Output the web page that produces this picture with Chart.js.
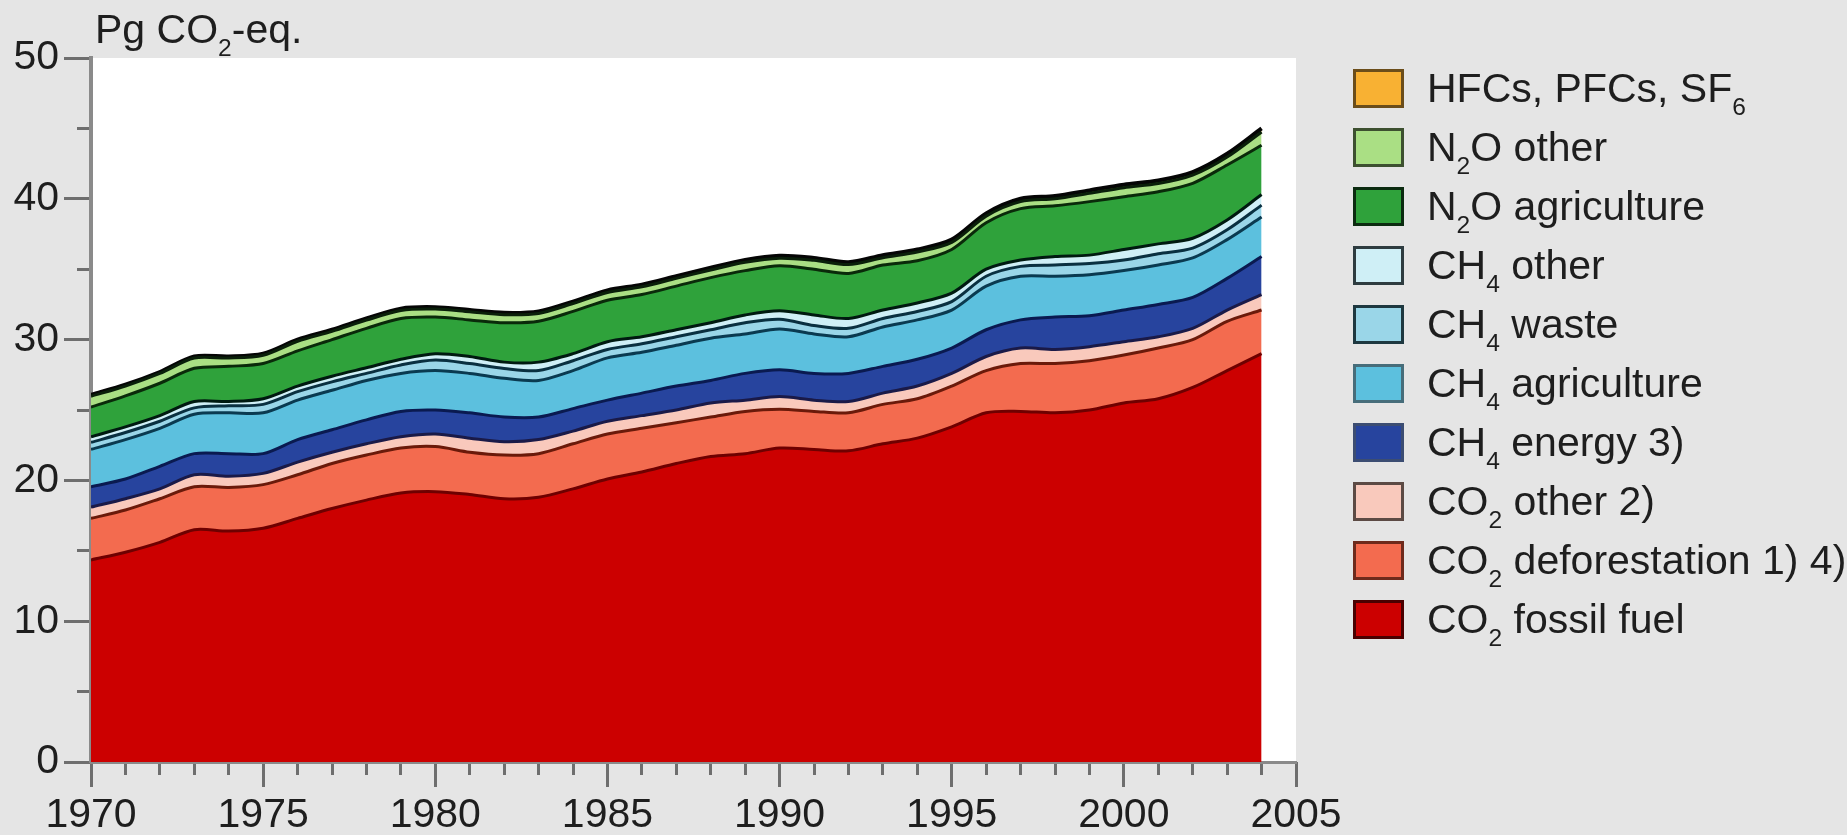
<!DOCTYPE html>
<html>
<head>
<meta charset="utf-8">
<script src="https://cdn.jsdelivr.net/npm/chart.js@4.4.1/dist/chart.umd.min.js"></script>
<style>
  html, body { margin: 0; padding: 0; background: #e5e5e5; }
  #wrap { position: relative; width: 1847px; height: 835px; overflow: hidden;
          font-family: 'Liberation Sans', Arial, Helvetica, sans-serif; color: #1e1e1e; }
  #chart { position: absolute; left: 0; top: 0; }
  .ytitle { position: absolute; left: 95px; top: 9px; font-size: 41px; line-height: 41px; white-space: nowrap; }
  sub { font-size: 0.6em; vertical-align: -13px; line-height: 0; }
  .leg { position: absolute; left: 1353px; height: 41px; display: flex; align-items: center;
         white-space: nowrap; font-size: 41px; line-height: 41px; }
  .leg .box { width: 51px; height: 39px; box-sizing: border-box; border: 3px solid #000; margin-right: 23px; flex: none; }
</style>
</head>
<body>
<div id="wrap">
  <canvas id="chart" width="1847" height="835"></canvas>
  <div class="ytitle">Pg CO<sub>2</sub>-eq.</div>
  <div id="legend"></div>
</div>
<script>
// ---- data (Pg CO2-eq.) ----
const years = [1970,1971,1972,1973,1974,1975,1976,1977,1978,1979,1980,1981,1982,1983,1984,1985,1986,1987,1988,1989,1990,1991,1992,1993,1994,1995,1996,1997,1998,1999,2000,2001,2002,2003,2004];

const co2Fossil = [14.35,14.9,15.6,16.5,16.4,16.6,17.3,18.0,18.6,19.1,19.2,19.0,18.7,18.8,19.4,20.1,20.6,21.2,21.7,21.9,22.3,22.2,22.1,22.6,23.0,23.8,24.8,24.9,24.8,25.0,25.5,25.8,26.6,27.8,29.0];
const co2Deforestation = [2.95,3.0,3.1,3.05,3.1,3.1,3.1,3.2,3.2,3.2,3.2,3.0,3.1,3.1,3.2,3.2,3.1,2.9,2.8,3.0,2.75,2.7,2.7,2.8,2.8,2.9,3.0,3.4,3.5,3.5,3.4,3.6,3.4,3.5,3.1];
const co2Other = [0.8,0.8,0.7,0.85,0.8,0.8,0.9,0.8,0.8,0.8,0.9,1.0,0.95,1.0,0.9,0.9,0.9,0.9,1.0,0.8,0.9,0.8,0.8,0.8,0.9,0.9,1.0,1.1,1.0,1.0,0.95,0.8,0.8,0.8,1.1];
const ch4Energy = [1.45,1.4,1.6,1.5,1.6,1.4,1.6,1.6,1.7,1.8,1.7,1.8,1.75,1.6,1.6,1.5,1.6,1.7,1.6,1.9,1.9,1.9,2.0,1.9,1.9,1.8,1.9,2.0,2.3,2.2,2.25,2.3,2.2,2.25,2.7];
const ch4Agriculture = [2.65,2.8,2.7,2.8,2.9,2.9,2.8,2.8,2.8,2.7,2.8,2.8,2.75,2.6,2.7,3.0,2.9,2.9,3.0,2.8,2.9,2.8,2.6,2.8,2.8,2.7,3.1,3.1,2.9,2.9,2.8,2.8,2.8,2.75,2.8];
const ch4Waste = [0.5,0.5,0.5,0.45,0.5,0.6,0.6,0.6,0.5,0.6,0.75,0.7,0.7,0.7,0.7,0.6,0.6,0.6,0.6,0.8,0.7,0.6,0.6,0.6,0.6,0.6,0.7,0.7,0.8,0.8,0.75,0.8,0.7,0.7,0.85];
const ch4Other = [0.4,0.4,0.4,0.45,0.3,0.4,0.4,0.4,0.4,0.4,0.45,0.5,0.45,0.6,0.5,0.55,0.5,0.5,0.5,0.55,0.6,0.75,0.7,0.6,0.6,0.6,0.5,0.45,0.6,0.6,0.75,0.7,0.7,0.7,0.75];
const n2oAgriculture = [2.1,2.2,2.3,2.36,2.5,2.5,2.5,2.6,2.8,2.9,2.6,2.6,2.8,2.9,3.0,2.95,3.0,3.1,3.2,3.15,3.2,3.25,3.2,3.2,3.0,3.1,3.3,3.65,3.6,3.8,3.75,3.7,3.9,3.9,3.5];
const n2oOther = [0.77,0.70,0.70,0.73,0.59,0.59,0.68,0.58,0.58,0.57,0.57,0.57,0.57,0.56,0.56,0.55,0.55,0.55,0.54,0.59,0.53,0.63,0.63,0.52,0.62,0.51,0.47,0.50,0.50,0.59,0.64,0.58,0.58,0.57,0.95];
const fGases = [0.1,0.1,0.1,0.11,0.11,0.11,0.12,0.12,0.12,0.13,0.13,0.13,0.13,0.14,0.14,0.15,0.15,0.15,0.16,0.16,0.17,0.17,0.17,0.18,0.18,0.19,0.19,0.2,0.2,0.21,0.21,0.22,0.22,0.23,0.25];

// ---- labels (bottom of stack first) ----
const seriesLabelsHtml = [
  'CO<sub>2</sub> fossil fuel',
  'CO<sub>2</sub> deforestation 1) 4)',
  'CO<sub>2</sub> other 2)',
  'CH<sub>4</sub> energy 3)',
  'CH<sub>4</sub> agriculture',
  'CH<sub>4</sub> waste',
  'CH<sub>4</sub> other',
  'N<sub>2</sub>O agriculture',
  'N<sub>2</sub>O other',
  'HFCs, PFCs, SF<sub>6</sub>'
];
const seriesValues = [co2Fossil, co2Deforestation, co2Other, ch4Energy, ch4Agriculture, ch4Waste, ch4Other, n2oAgriculture, n2oOther, fGases];

// ---- styles ----
const fillColors = ['#cc0000','#f36b4f','#f9c9bc','#27449e','#5cc0de','#9ad6e8','#cfeff6','#2fa23b','#aadf84','#f8b133'];
const lineColors = ['#6e0000','#6a1a0a','#1a1a48','#0a1a50','#0a3a50','#0a3040','#001a10','#0a2a0a','#0a1f0a','#050505'];
const lineWidths = [3,3,3,3,3,3,3,3,3,4];
const legendBorders = ['#4a0000','#6e2a1c','#5c4a44','#3c4d72','#476d7a','#1e3840','#2e3c40','#0b2b10','#3d5030','#6b4d1a'];

// ---- ticks ----
const xTickLabels = [1970,1975,1980,1985,1990,1995,2000,2005];
const xMinorTicks = Array.from({length: 36}, (_, i) => 1970 + i);
const yTickLabels = [0,10,20,30,40,50];
const yMinorTicks = [0,5,10,15,20,25,30,35,40,45,50];

const tickFont = { family: "'Liberation Sans', Arial, Helvetica, sans-serif", size: 41 };
const axisGray = '#8a8a8a';
const tickGray = '#6e6e6e';

const datasets = seriesValues.map((vals, i) => ({
  label: seriesLabelsHtml[i].replace(/<[^>]+>/g, ''),
  data: vals.map((v, j) => ({ x: years[j], y: v })),
  backgroundColor: fillColors[i],
  borderColor: lineColors[i],
  borderWidth: lineWidths[i],
  pointRadius: 0,
  tension: 0.3,
  fill: i === 0 ? 'origin' : '-1',
  xAxisID: 'x',
  yAxisID: 'y'
}));

const plotBg = {
  id: 'plotBg',
  beforeDraw(chart) {
    const { ctx, chartArea: { left, top, right, bottom } } = chart;
    ctx.save();
    ctx.fillStyle = '#ffffff';
    ctx.fillRect(left, top, right - left, bottom - top);
    ctx.restore();
  }
};

new Chart(document.getElementById('chart'), {
  type: 'line',
  data: { datasets },
  plugins: [plotBg],
  options: {
    responsive: false,
    animation: false,
    devicePixelRatio: 1,
    layout: { padding: { left: 0, top: 58, right: 551, bottom: 0 } },
    plugins: { legend: { display: false }, tooltip: { enabled: false } },
    scales: {
      x: {
        type: 'linear', position: 'bottom', min: 1970, max: 2005,
        afterBuildTicks: s => { s.ticks = xTickLabels.map(v => ({ value: v })); },
        afterFit: s => { s.height = 73; },
        ticks: { font: tickFont, color: '#1e1e1e', padding: 4, maxRotation: 0, autoSkip: false, callback: v => String(v) },
        grid: { drawOnChartArea: false, tickLength: 25, tickWidth: 3, tickColor: tickGray, color: tickGray },
        border: { color: axisGray, width: 3 }
      },
      y: {
        type: 'linear', position: 'left', min: 0, max: 50, stacked: true,
        afterBuildTicks: s => { s.ticks = yTickLabels.map(v => ({ value: v })); },
        afterFit: s => { s.width = 91; },
        ticks: { font: tickFont, color: '#1e1e1e', padding: 5, callback: v => String(v) },
        grid: { drawOnChartArea: false, tickLength: 27, tickWidth: 3, tickColor: tickGray, color: tickGray },
        border: { color: axisGray, width: 4 }
      },
      x2: {
        type: 'linear', position: { y: 0 }, min: 1970, max: 2005,
        afterBuildTicks: s => { s.ticks = xMinorTicks.map(v => ({ value: v })); },
        ticks: { display: false },
        grid: { drawOnChartArea: false, tickLength: 13, tickWidth: 3, tickColor: tickGray, color: tickGray },
        border: { display: false }
      },
      y2: {
        type: 'linear', position: { x: 1970 }, min: 0, max: 50,
        afterBuildTicks: s => { s.ticks = yMinorTicks.map(v => ({ value: v })); },
        ticks: { display: false },
        grid: { drawOnChartArea: false, tickLength: 14, tickWidth: 3, tickColor: tickGray, color: tickGray },
        border: { display: false }
      }
    }
  }
});

// ---- HTML legend (top of stack first) ----
const legend = document.getElementById('legend');
for (let k = 0; k < seriesLabelsHtml.length; k++) {
  const i = seriesLabelsHtml.length - 1 - k;
  const row = document.createElement('div');
  row.className = 'leg';
  row.style.top = (67.5 + k * 59.1) + 'px';
  const box = document.createElement('div');
  box.className = 'box';
  box.style.background = fillColors[i];
  box.style.borderColor = legendBorders[i];
  const txt = document.createElement('span');
  txt.innerHTML = seriesLabelsHtml[i];
  row.appendChild(box);
  row.appendChild(txt);
  legend.appendChild(row);
}
</script>
</body>
</html>
